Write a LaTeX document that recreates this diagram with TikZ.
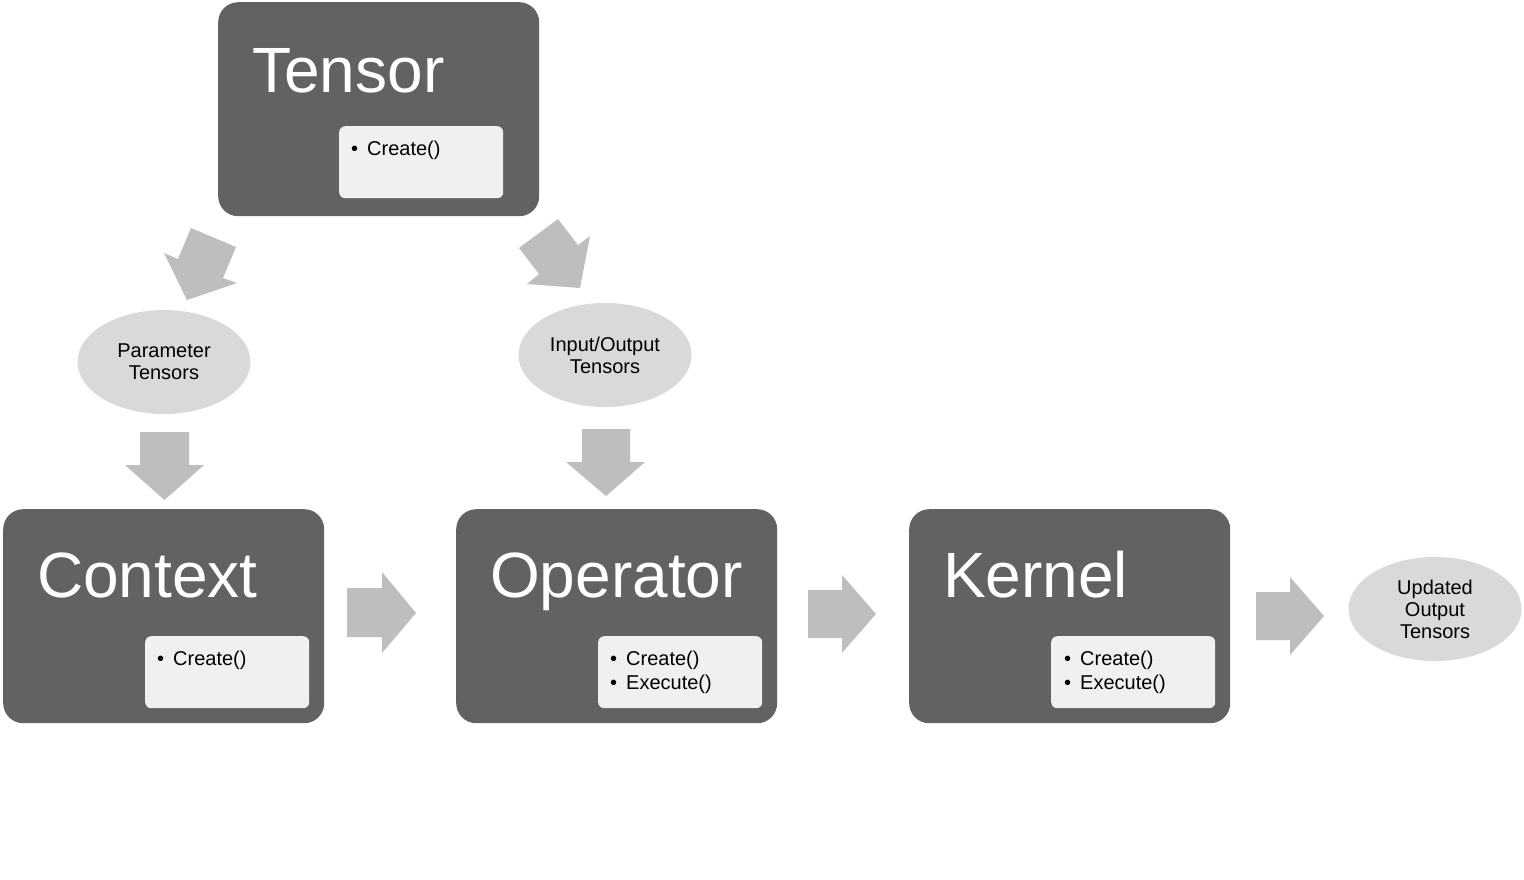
\documentclass[tikz,border=0pt]{standalone}
\usepackage{fontspec}
\setmainfont{Liberation Sans}
\usetikzlibrary{shapes.geometric}
\definecolor{boxdark}{RGB}{98,98,100}
\definecolor{boxlight}{RGB}{240,240,240}
\definecolor{ellfill}{RGB}{217,217,217}
\definecolor{arrfill}{RGB}{189,190,190}
\begin{document}
\begin{tikzpicture}[x=1pt,y=-1pt,
  bigbox/.style={fill=boxdark, draw=none, rounded corners=20pt, minimum width=321pt, minimum height=214pt, inner sep=0pt, anchor=north west},
  smallbox/.style={fill=boxlight, draw=none, rounded corners=6pt, minimum width=164pt, minimum height=72pt, inner sep=0pt, anchor=north west},
  title/.style={text=white, anchor=base west, inner sep=0pt, font=\fontsize{64}{68}\selectfont},
  items/.style={text=black, anchor=base west, inner sep=0pt, align=left, font=\fontsize{20}{24}\selectfont},
  oval/.style={ellipse, fill=ellfill, draw=none, minimum width=173pt, minimum height=104pt, inner sep=0pt, align=center, font=\fontsize{20}{22}\selectfont},
  blockarrow/.style={fill=arrfill, draw=none}
]
\useasboundingbox[fill=white] (0,0) rectangle (1524,879);

% boxes
\node[bigbox] (tensor) at (218,2) {};
\node[smallbox] (tensorin) at (339,126) {};
\node[title] (tensort) at (252,92) {Tensor};
\node[items] (tensori) at (351,155) {\textbullet\hspace{0.45em}Create()};

\node[bigbox] (context) at (3,509) {};
\node[smallbox] (contextin) at (145,636) {};
\node[title] (contextt) at (37,597) {Context};
\node[items] (contexti) at (157,665) {\textbullet\hspace{0.45em}Create()};

\node[bigbox] (operator) at (456,509) {};
\node[smallbox] (operatorin) at (598,636) {};
\node[title] (operatort) at (490,597) {Operator};
\node[items] (operatori) at (610,689) {\textbullet\hspace{0.45em}Create()\\\textbullet\hspace{0.45em}Execute()};

\node[bigbox] (kernel) at (909,509) {};
\node[smallbox] (kernelin) at (1051,636) {};
\node[title] (kernelt) at (943,597) {Kernel};
\node[items] (kerneli) at (1064,689) {\textbullet\hspace{0.45em}Create()\\\textbullet\hspace{0.45em}Execute()};

% ellipses
\node[oval] (param) at (164,362) {Parameter\\Tensors};
\node[oval] (io) at (605,355) {Input/Output\\Tensors};
\node[oval] (updated) at (1435,609) {Updated\\Output\\Tensors};

% block arrows
\fill[blockarrow] (191,228) -- (236,247) -- (223,278) -- (237,283) -- (187,300) -- (164,253) -- (178,259) -- cycle;
\fill[blockarrow] (558,219) -- (578,245) -- (590,236) -- (580,288) -- (527,284) -- (539,274) -- (519,248) -- cycle;
\fill[blockarrow] (140,432) -- (189,432) -- (189,465) -- (204,465) -- (164.5,500) -- (125,465) -- (140,465) -- cycle;
\fill[blockarrow] (582,429) -- (630,429) -- (630,462) -- (645,462) -- (606,496) -- (566,462) -- (582,462) -- cycle;
\fill[blockarrow] (347,588) -- (382,588) -- (382,572) -- (416,613) -- (382,653) -- (382,637) -- (347,637) -- cycle;
\fill[blockarrow] (808,590) -- (842,590) -- (842,575) -- (876,614) -- (842,653) -- (842,638) -- (808,638) -- cycle;
\fill[blockarrow] (1256,592) -- (1290,592) -- (1290,577) -- (1324,616) -- (1290,655) -- (1290,640) -- (1256,640) -- cycle;
\end{tikzpicture}
\end{document}
